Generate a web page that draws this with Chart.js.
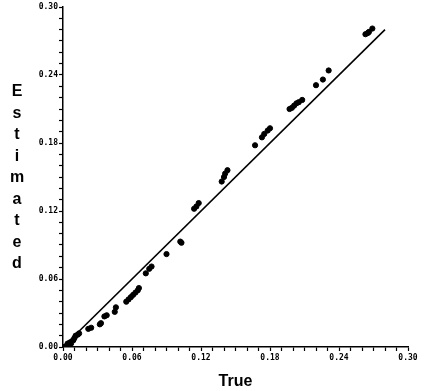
<!DOCTYPE html>
<html>
<head>
<meta charset="utf-8">
<script src="https://cdn.jsdelivr.net/npm/chart.js@4.4.0/dist/chart.umd.min.js"></script>
<style>
  html, body { margin: 0; padding: 0; background: #fff; }
  #wrap { width: 428px; height: 391px; }
</style>
</head>
<body>
<div id="wrap"><canvas id="estChart"></canvas></div>
<script>
// values
const trueVals = [0.001, 0.003, 0.004, 0.006, 0.007, 0.009, 0.010, 0.011, 0.013, 0.014,
  0.022, 0.0245, 0.032, 0.033, 0.036, 0.038, 0.045, 0.046,
  0.055, 0.057, 0.059, 0.061, 0.063, 0.065, 0.066,
  0.072, 0.075, 0.077, 0.090, 0.102, 0.103,
  0.114, 0.116, 0.118, 0.138, 0.140, 0.141, 0.143,
  0.167, 0.173, 0.175, 0.178, 0.180,
  0.197, 0.199, 0.201, 0.203, 0.205, 0.208,
  0.220, 0.226, 0.231, 0.263, 0.265, 0.266, 0.269];
const estVals = [0.000, 0.001, 0.003, 0.004, 0.003, 0.006, 0.008, 0.010, 0.011, 0.012,
  0.016, 0.017, 0.020, 0.021, 0.027, 0.028, 0.031, 0.035,
  0.040, 0.042, 0.044, 0.046, 0.048, 0.050, 0.052,
  0.065, 0.069, 0.071, 0.082, 0.093, 0.092,
  0.122, 0.124, 0.127, 0.146, 0.150, 0.153, 0.156,
  0.178, 0.185, 0.188, 0.191, 0.193,
  0.210, 0.211, 0.213, 0.215, 0.216, 0.218,
  0.231, 0.236, 0.244, 0.276, 0.277, 0.278, 0.281];
const lineVals = [0, 0.28];
const axisMin = 0, axisMax = 0.30;
const yTitle = 'Estimated';
const xTitle = 'True';

const points = trueVals.map((v, i) => ({ x: v, y: estVals[i] }));
const refLine = lineVals.map(v => ({ x: v, y: v }));

const tickFont = { family: 'DejaVu Sans Mono', size: 8, weight: 'bold' };
const labelEvery6 = v => {
    const h = Math.round(v * 100);
    return h % 6 === 0 ? (h / 100).toFixed(2) : '';
};

// stacked letters for the vertical axis title
const stackedTitle = {
    id: 'stackedTitle',
    afterDraw(chart) {
        const c = chart.ctx;
        c.save();
        c.fillStyle = '#000';
        c.font = 'bold 16px "Liberation Sans"';
        c.textAlign = 'center';
        c.textBaseline = 'middle';
        yTitle.split('').forEach((ch, i) => c.fillText(ch, 17, 92 + i * 21.5));
        c.restore();
    }
};

new Chart(document.getElementById('estChart'), {
    type: 'scatter',
    data: {
        datasets: [{
            data: points,
            backgroundColor: '#000',
            borderColor: '#000',
            pointRadius: 2.6,
            pointHoverRadius: 2.6
        }, {
            type: 'line',
            data: refLine,
            borderColor: '#000',
            borderWidth: 1.6,
            pointRadius: 0,
            fill: false
        }]
    },
    plugins: [stackedTitle],
    options: {
        responsive: true,
        maintainAspectRatio: false,
        animation: false,
        layout: { padding: { top: 7, right: 20, left: 0, bottom: 0 } },
        plugins: { legend: { display: false }, tooltip: { enabled: false } },
        scales: {
            x: {
                type: 'linear',
                min: axisMin,
                max: axisMax,
                afterFit: s => { s.height = 44; },
                border: { color: '#000', width: 1.5 },
                grid: { drawOnChartArea: false, tickLength: 4, color: '#000', tickWidth: 1.2 },
                ticks: { stepSize: 0.01, autoSkip: false, maxRotation: 0, color: '#000', font: tickFont, padding: 2, callback: labelEvery6 },
                title: { display: true, text: xTitle, color: '#000', font: { family: 'Liberation Sans', size: 16, weight: 'bold' }, padding: { top: 4, bottom: 0 } }
            },
            y: {
                type: 'linear',
                min: axisMin,
                max: axisMax,
                afterFit: s => { s.width = 63; },
                border: { color: '#000', width: 1.5 },
                grid: { drawOnChartArea: false, tickLength: 4, color: '#000', tickWidth: 1.2 },
                ticks: { stepSize: 0.01, autoSkip: false, color: '#000', font: tickFont, padding: 1, callback: labelEvery6 }
            }
        }
    }
});
</script>
</body>
</html>
